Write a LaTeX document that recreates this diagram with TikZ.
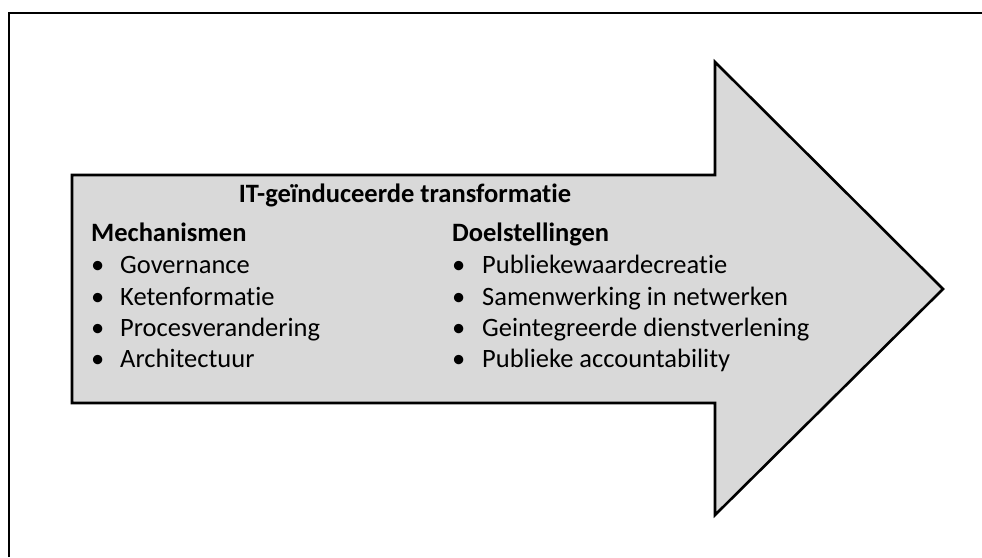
\documentclass[tikz,border=0pt]{standalone}
\usepackage{fontspec}
\setmainfont{Carlito}[Ligatures={NoCommon,NoRare,NoDiscretionary,NoContextual}]
\definecolor{arrowfill}{HTML}{D9D9D9}
\tikzset{
  frameline/.style={line width=2.2pt, black},
  bigarrow/.style={fill=arrowfill, draw=black, line width=2.6pt, line join=miter},
  txt/.style={anchor=base west, inner sep=0pt, font=\fontsize{26.5}{31}\selectfont},
  bold/.style={txt, font=\fontsize{26.5}{31}\selectfont\bfseries},
}
\begin{document}
\begin{tikzpicture}[x=1pt,y=-1pt]
\useasboundingbox (0,0) rectangle (982,557);
% partial frame (top and left)
\draw[frameline] (9,557) -- (9,13) -- (982,13);
% arrow
\draw[bigarrow] (72,175) -- (715,175) -- (715,62) -- (943,289) -- (715,515) -- (715,403) -- (72,403) -- cycle;
% title
\node[bold, anchor=base] (title) at (405,202) {IT-geïnduceerde transformatie};
% left column
\node[bold] (mech) at (91,241) {Mechanismen};
\node[txt] (b1) at (91,273) {•};
\node[txt] (m1) at (120,273) {Governance};
\node[txt] (b2) at (91,305) {•};
\node[txt] (m2) at (120,305) {Ketenformatie};
\node[txt] (b3) at (91,336) {•};
\node[txt] (m3) at (120,336) {Procesverandering};
\node[txt] (b4) at (91,367) {•};
\node[txt] (m4) at (120,367) {Architectuur};
% right column
\node[bold] (doel) at (452,241) {Doelstellingen};
\node[txt] (c1) at (452,273) {•};
\node[txt] (d1) at (482,273) {Publiekewaardecreatie};
\node[txt] (c2) at (452,305) {•};
\node[txt] (d2) at (482,305) {Samenwerking in netwerken};
\node[txt] (c3) at (452,336) {•};
\node[txt] (d3) at (482,336) {Geintegreerde dienstverlening};
\node[txt] (c4) at (452,367) {•};
\node[txt] (d4) at (482,367) {Publieke accountability};
\end{tikzpicture}
\end{document}
